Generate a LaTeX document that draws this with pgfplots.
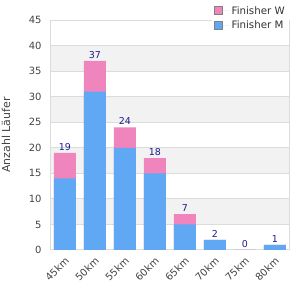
\documentclass[border=0pt]{standalone}
\usepackage{fontspec}
\setmainfont{DejaVu Sans}
\usepackage{pgfplots}
\pgfplotsset{compat=1.18}
\definecolor{pinkW}{RGB}{240,132,188}
\definecolor{blueM}{RGB}{96,168,244}
\definecolor{gridc}{RGB}{220,220,220}
\definecolor{bandc}{RGB}{242,242,242}
\definecolor{labc}{RGB}{28,28,140}
\definecolor{tickc}{RGB}{68,68,68}
\begin{document}
\begin{tikzpicture}[x=1bp,y=1bp]
\useasboundingbox (0,0) rectangle (300,300);
% background bands and grid lines (axis: x 50..290, y 50..280, 0..45)
\fill[bandc] (50,75.556) rectangle (290,101.111);
\fill[bandc] (50,126.667) rectangle (290,152.222);
\fill[bandc] (50,177.778) rectangle (290,203.333);
\fill[bandc] (50,228.889) rectangle (290,254.444);
\foreach \yy in {75.556,101.111,126.667,152.222,177.778,203.333,228.889,254.444}{
  \draw[gridc, line width=0.8bp] (50,\yy) -- (290,\yy);
}
\begin{axis}[
  at={(50bp,50bp)}, anchor=south west,
  scale only axis, width=240bp, height=230bp,
  xmin=-0.5, xmax=7.5, ymin=0, ymax=45,
  ybar, bar width=22bp, bar shift=0pt,
  xtick={0,...,7},
  xticklabels={45km,50km,55km,60km,65km,70km,75km,80km},
  ytick={0,5,...,45},
  major tick length=0pt,
  axis line style={gridc, line width=1bp},
  tick label style={font=\fontsize{10}{12}\selectfont, text=tickc},
  /pgf/number format/assume math mode=true,
  xticklabel style={rotate=45, anchor=north east, inner sep=1bp, yshift=-3bp, xshift=-4bp},
  yticklabel style={xshift=-5bp},
  ylabel={Anzahl Läufer},
  ylabel style={at={(axis description cs:-0.183,0.5)}, anchor=center, font=\fontsize{11}{13}\selectfont, text=tickc},
  legend style={at={(axis description cs:0.675,1.078)}, anchor=north west, draw=none, fill=white,
    font=\fontsize{10.3}{12}\selectfont, text=black!80, row sep=1.5bp, inner sep=2bp,
    cells={anchor=west}},
  legend image code/.code={\draw[#1, draw=gray, line width=0.8bp] (0bp,-4bp) rectangle (8bp,4bp); \path (0bp,0bp) -- (15bp,0bp);},
]
% totals (Finisher W stacked on top of Finisher M)
\addplot+[fill=pinkW, draw=none, nodes near coords,
  nodes near coords style={text=labc, font=\fontsize{9.5}{11}\selectfont, inner sep=2.5bp}]
  coordinates {(0,19) (1,37) (2,24) (3,18) (4,7) (5,2) (6,0) (7,1)};
\addlegendentry{Finisher W}
\addplot+[fill=blueM, draw=none] coordinates {(0,14) (1,31) (2,20) (3,15) (4,5) (5,2) (6,0) (7,1)};
\addlegendentry{Finisher M}
\end{axis}
\end{tikzpicture}
\end{document}
